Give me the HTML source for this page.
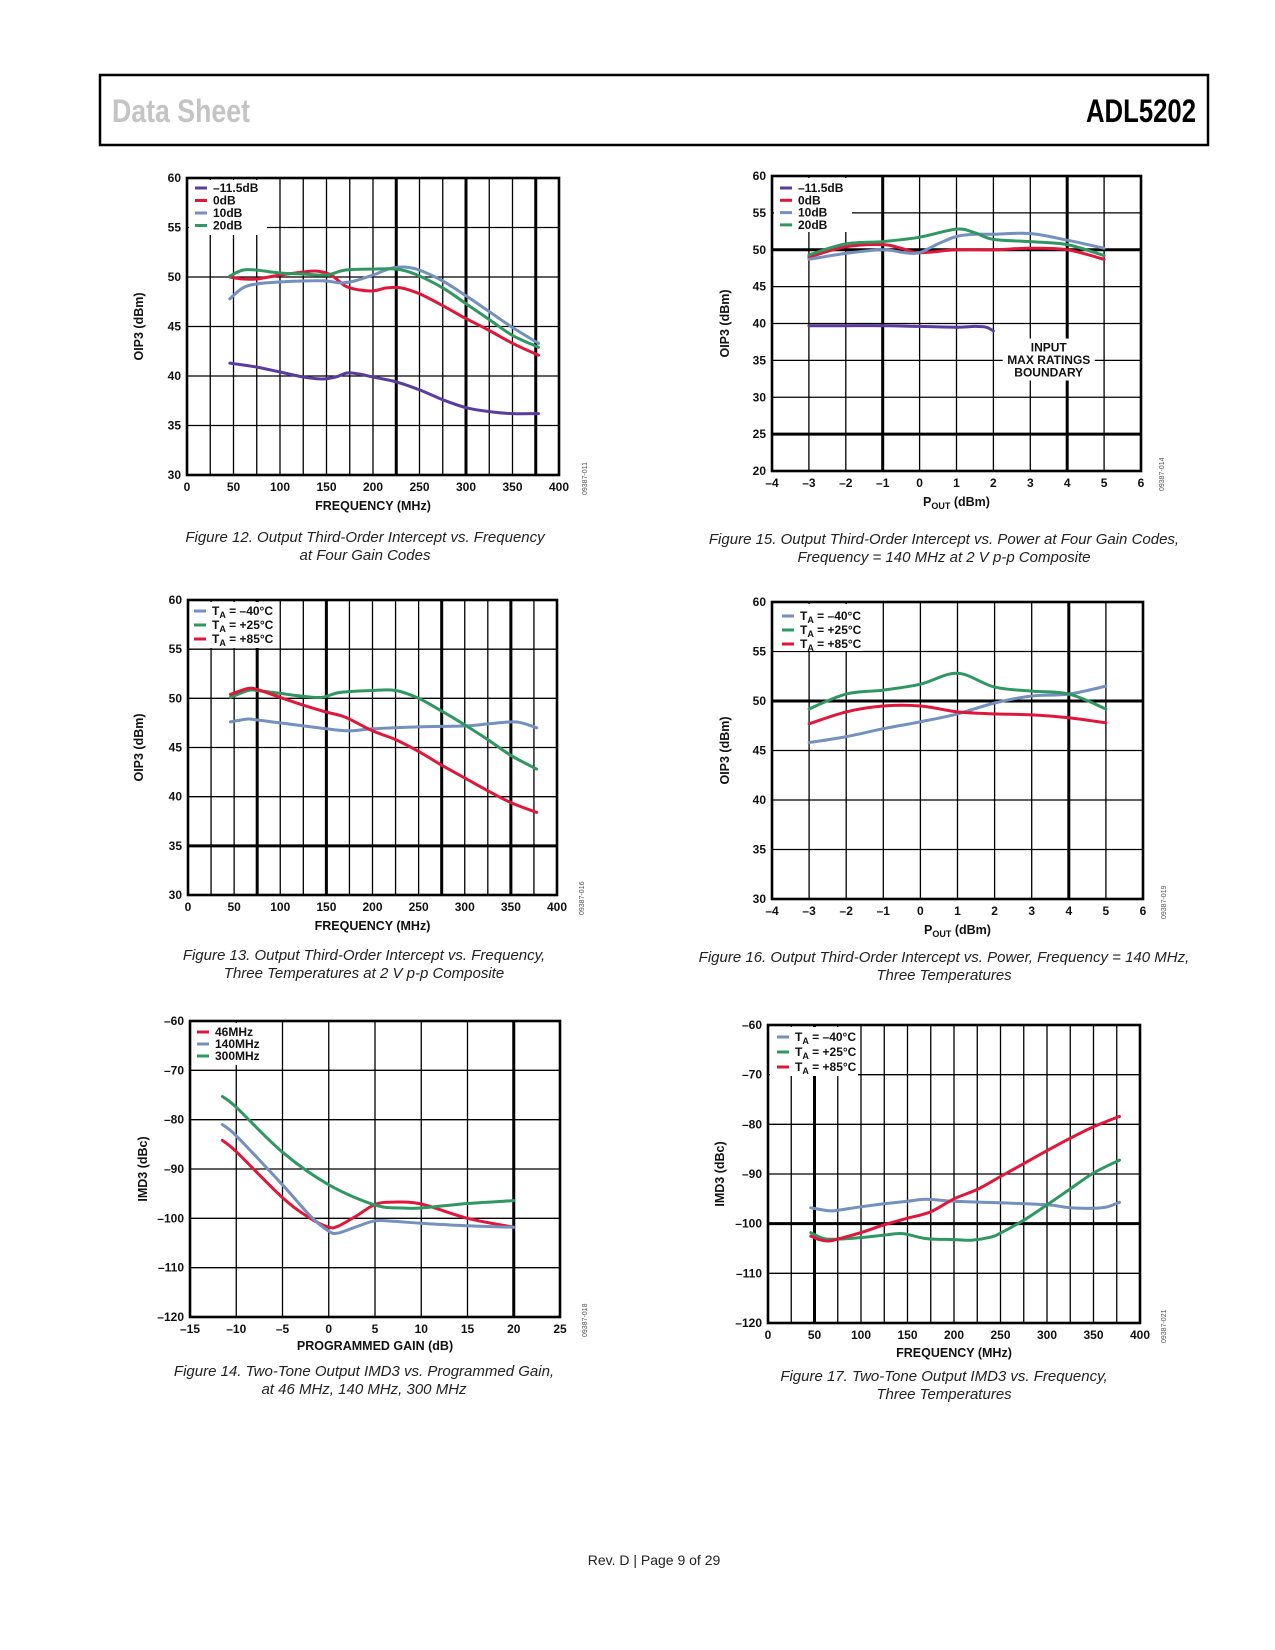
<!DOCTYPE html>
<html><head><meta charset="utf-8"><style>
html,body{margin:0;padding:0;background:#fff;}
svg{display:block;font-family:"Liberation Sans",Arial,sans-serif;}
.tk{font-size:12px;font-weight:bold;fill:#111;}
.at{font-size:12.5px;font-weight:bold;fill:#111;}
.lg{font-size:12px;font-weight:bold;fill:#111;}
.cap{font-size:15px;font-style:italic;fill:#222;}
</style></head><body>
<svg id="page" width="1275" height="1650" viewBox="0 0 1275 1650">
<rect x="0" y="0" width="1275" height="1650" fill="#fff"/>
<g>
<rect x="100" y="75" width="1108" height="70" fill="none" stroke="#000" stroke-width="2.5"/>
<text x="112" y="122" font-size="32" font-weight="bold" fill="#c4c4c4" textLength="138" lengthAdjust="spacingAndGlyphs">Data Sheet</text>
<text x="1086" y="122" font-size="32" font-weight="bold" fill="#000" textLength="110" lengthAdjust="spacingAndGlyphs">ADL5202</text>
</g>
<g id="charts"></g>
<text x="654" y="1565" text-anchor="middle" font-size="14" fill="#222">Rev. D | Page 9 of 29</text>
</svg>
<script>
// ---- Figure 12 data ----
const f12_x_m115 = [46,75,100,125,145,160,172,185,200,225,250,275,300,325,350,378];
const f12_y_m115 = [41.3,40.9,40.4,39.9,39.7,39.9,40.3,40.2,39.9,39.4,38.6,37.6,36.8,36.4,36.2,36.2];
const f12_x_0 = [46,60,75,100,125,140,155,170,185,200,215,230,250,275,300,325,350,378];
const f12_y_0 = [50.0,49.8,49.8,50.2,50.5,50.6,50.2,49.1,48.7,48.6,48.9,48.9,48.3,47.1,45.8,44.6,43.3,42.1];
const f12_x_10 = [46,60,75,100,125,150,165,180,200,220,235,250,275,300,325,350,378];
const f12_y_10 = [47.8,48.9,49.3,49.5,49.6,49.6,49.4,49.6,50.2,50.9,51.0,50.7,49.6,48.1,46.5,44.9,43.3];
const f12_x_20 = [46,60,75,100,125,150,170,200,225,245,275,300,325,350,378];
const f12_y_20 = [50.1,50.7,50.7,50.4,50.3,50.2,50.7,50.8,50.8,50.3,48.9,47.3,45.7,44.1,42.9];
const f12_xticks = [0,50,100,150,200,250,300,350,400];
const f12_yticks = [30,35,40,45,50,55,60];
// ---- Figure 15 data ----
const f15_x_m115 = [-3,-2,-1,0,1,1.5,1.8,2];
const f15_y_m115 = [39.7,39.7,39.7,39.6,39.5,39.6,39.5,39.0];
const f15_x_0 = [-3,-2,-1,-0.5,0,1,2,3,4,5];
const f15_y_0 = [49.0,50.4,50.7,50.2,49.6,50.0,50.0,50.2,50.0,48.7];
const f15_x_10 = [-3,-2,-1,-0.4,0,0.5,1,1.5,2,3,4,5];
const f15_y_10 = [48.7,49.5,50.0,49.6,49.6,50.8,51.8,52.1,52.1,52.2,51.3,50.2];
const f15_x_20 = [-3,-2,-1,0,1,1.5,2,3,4,5];
const f15_y_20 = [49.3,50.8,51.1,51.7,52.8,52.3,51.4,51.1,50.7,49.2];
const f15_xticks = [-4,-3,-2,-1,0,1,2,3,4,5,6];
const f15_yticks = [20,25,30,35,40,45,50,55,60];
// ---- Figure 13 data ----
const f13_x_m40 = [46,65,75,100,125,150,175,200,250,300,325,350,362,378];
const f13_y_m40 = [47.6,47.9,47.8,47.5,47.2,46.9,46.7,46.9,47.1,47.2,47.4,47.6,47.5,47.0];
const f13_x_25 = [46,65,75,100,125,145,165,200,225,250,275,300,325,350,378];
const f13_y_25 = [50.1,50.8,50.8,50.5,50.2,50.1,50.6,50.8,50.8,50.0,48.7,47.3,45.8,44.2,42.8];
const f13_x_85 = [46,65,75,100,125,150,170,200,225,250,275,300,325,350,378];
const f13_y_85 = [50.4,51.0,50.9,50.1,49.3,48.6,48.1,46.7,45.8,44.6,43.2,41.9,40.6,39.4,38.4];
const f13_xticks = [0,50,100,150,200,250,300,350,400];
const f13_yticks = [30,35,40,45,50,55,60];
// ---- Figure 16 data ----
const f16_x = [-3,-2,-1,0,1,2,3,4,5];
const f16_y_m40 = [45.8,46.4,47.2,47.9,48.7,49.8,50.5,50.7,51.5];
const f16_y_25 = [49.2,50.7,51.1,51.7,52.8,51.4,51.0,50.7,49.2];
const f16_y_85 = [47.7,48.9,49.5,49.5,48.9,48.7,48.6,48.3,47.8];
const f16_xticks = [-4,-3,-2,-1,0,1,2,3,4,5,6];
const f16_yticks = [30,35,40,45,50,55,60];
// ---- Figure 14 data ----
const f14_x_46 = [-11.5,-10,-5,-2,0,1,3,5,7,10,15,20];
const f14_y_46 = [-84.2,-86.5,-95.8,-100,-101.8,-101.6,-99.5,-97.2,-96.7,-97.1,-100.0,-101.8];
const f14_x_140 = [-11.5,-10,-5,-2,0,1,3,5,7,10,15,20];
const f14_y_140 = [-81,-83.3,-93.2,-99.5,-102.6,-103,-101.7,-100.5,-100.6,-101,-101.5,-101.8];
const f14_x_300 = [-11.5,-10,-5,0,5,8,10,15,20];
const f14_y_300 = [-75.3,-77.5,-86.6,-93.2,-97.3,-97.9,-97.9,-97.0,-96.4];
const f14_xticks = [-15,-10,-5,0,5,10,15,20,25];
const f14_yticks = [-120,-110,-100,-90,-80,-70,-60];
// ---- Figure 17 data ----
const f17_x_m40 = [46,65,75,100,125,150,170,200,250,300,325,350,365,378];
const f17_y_m40 = [-96.8,-97.4,-97.3,-96.6,-96,-95.5,-95.1,-95.5,-95.8,-96.2,-96.8,-96.9,-96.6,-95.7];
const f17_x_25 = [46,60,75,100,125,145,170,200,220,240,250,275,300,325,350,378];
const f17_y_25 = [-101.8,-103,-103.1,-102.8,-102.3,-102,-103,-103.2,-103.3,-102.7,-101.9,-99.3,-96.2,-93,-89.8,-87.2];
const f17_x_85 = [46,55,65,75,100,125,150,175,200,225,250,275,300,325,350,378];
const f17_y_85 = [-102.5,-103.2,-103.5,-103.1,-101.8,-100.2,-98.9,-97.6,-95.0,-93.1,-90.5,-87.9,-85.3,-82.8,-80.5,-78.4];
const f17_xticks = [0,50,100,150,200,250,300,350,400];
const f17_yticks = [-120,-110,-100,-90,-80,-70,-60];

const NS = 'http://www.w3.org/2000/svg';
const C = {purple:'#5a3c9e', red:'#e0173a', blue:'#7490be', green:'#2f9862'};
const root = document.getElementById('charts');
function mk(tag, attrs, parent){const e=document.createElementNS(NS,tag);for(const k in attrs)e.setAttribute(k,attrs[k]);(parent||root).appendChild(e);return e;}
function smooth(pts){
  let d='M'+pts[0][0].toFixed(1)+','+pts[0][1].toFixed(1);
  for(let i=0;i<pts.length-1;i++){
    const p0=pts[i-1]||pts[i],p1=pts[i],p2=pts[i+1],p3=pts[i+2]||p2;
    const c1=[p1[0]+(p2[0]-p0[0])/6,p1[1]+(p2[1]-p0[1])/6];
    const c2=[p2[0]-(p3[0]-p1[0])/6,p2[1]-(p3[1]-p1[1])/6];
    d+=' C'+c1[0].toFixed(1)+','+c1[1].toFixed(1)+' '+c2[0].toFixed(1)+','+c2[1].toFixed(1)+' '+p2[0].toFixed(1)+','+p2[1].toFixed(1);
  }
  return d;
}
function chart(cfg){
  const g=mk('g',{});
  
  
  const L=cfg.L,R=cfg.R,T=cfg.T,B=cfg.B;
  const xmin=cfg.xticks[0],xmax=cfg.xticks[cfg.xticks.length-1];
  const ymin=cfg.yticks[0],ymax=cfg.yticks[cfg.yticks.length-1];
  const sx=v=>L+(v-xmin)/(xmax-xmin)*(R-L);
  const sy=v=>B-(v-ymin)/(ymax-ymin)*(B-T);
  for(let v=xmin+cfg.xstep; v<xmax-1e-9; v+=cfg.xstep){
    const thick=cfg.xthick.some(t=>Math.abs(t-v)<1e-6);
    const ln=mk('line',{x1:sx(v),x2:sx(v),y1:T,y2:B,stroke:'#000','stroke-width':thick?3:1.3},g);
    
    
  }
  for(const v of cfg.yticks){
    if(v===ymin||v===ymax)continue;
    const thick=cfg.ythick.includes(v);
    const ln=mk('line',{x1:L,x2:R,y1:sy(v),y2:sy(v),stroke:'#000','stroke-width':thick?3:1.3},g);
    
    
  }
  const fr=mk('rect',{x:L,y:T,width:R-L,height:B-T,fill:'none',stroke:'#000','stroke-width':2.6},g);
  
  
  mk('rect',{x:L+2,y:T+2,width:cfg.lgW,height:cfg.lgH,fill:'#fff'},g);
  if(cfg.note){
    mk('rect',{x:sx(cfg.note.x)-46,y:sy(cfg.note.y)-13,width:92,height:42,fill:'#fff'},g);
    cfg.note.lines.forEach((s,i)=>{
      const t=mk('text',{x:sx(cfg.note.x),y:sy(cfg.note.y)+i*12.5,'text-anchor':'middle',class:'lg'},g);
      t.textContent=s;
      
      
    });
  }
  for(const v of cfg.xticks){
    const t=mk('text',{x:sx(v),y:B+16,'text-anchor':'middle',class:'tk'},g);
    t.textContent=v<0?'\u2013'+(-v):String(v);
    
    
  }
  for(const v of cfg.yticks){
    const t=mk('text',{x:L-6,y:sy(v)+4,'text-anchor':'end',class:'tk'},g);
    t.textContent=v<0?'\u2013'+(-v):String(v);
    
    
  }
  const xt=mk('text',{x:(L+R)/2,y:cfg.xtY,'text-anchor':'middle',class:'at'},g);
  if(cfg.pout){const a=mk('tspan',{},xt);a.textContent='P';const b=mk('tspan',{dy:3,'font-size':'9'},xt);b.textContent='OUT';const c=mk('tspan',{dy:-3},xt);c.textContent=' (dBm)';}
  else xt.textContent=cfg.xtitle;
  
  
  const yt=mk('text',{x:cfg.ytX,y:(T+B)/2,'text-anchor':'middle',class:'at',transform:'rotate(-90 '+cfg.ytX+' '+(T+B)/2+')'},g);
  yt.textContent=cfg.ytitle;
  
  
  cfg.series.forEach((s,i)=>{
    const pts=s.x.map((xv,j)=>[sx(xv),sy(s.y[j])]);
    const p=mk('path',{d:smooth(pts),fill:'none',stroke:s.c,'stroke-width':3,'stroke-linecap':'round','stroke-linejoin':'round'},g);
    
    
    const ly=T+cfg.lgY0+i*cfg.lgDy;
    const ls=mk('line',{x1:L+cfg.lgX,x2:L+cfg.lgX+12,y1:ly,y2:ly,stroke:s.c,'stroke-width':3},g);
    
    
    const lt=mk('text',{x:L+cfg.lgX+18,y:ly+4,class:'lg'},g);
    if(s.temp){const a=mk('tspan',{},lt);a.textContent='T';const b=mk('tspan',{dy:3,'font-size':'9'},lt);b.textContent='A';const c=mk('tspan',{dy:-3},lt);c.textContent=' = '+s.label;}
    else lt.textContent=s.label;
    
    
  });
  const code=mk('text',{x:cfg.codeX,y:B+20,'font-size':'7',fill:'#555',transform:'rotate(-90 '+cfg.codeX+' '+(B+20)+')'},g);
  code.textContent=cfg.code;
  
  
  cfg.caption.forEach((s,i)=>{
    const t=mk('text',{x:cfg.capX,y:cfg.capY+i*18,'text-anchor':'middle',class:'cap'},g);
    t.textContent=s;
    
    
  });
}
chart({name:'figure-12-chart',L:187,R:559,T:178,B:475,xticks:f12_xticks,yticks:f12_yticks,xstep:25,xthick:[225,300,375],ythick:[],
  xtitle:'FREQUENCY (MHz)',xtY:510,ytitle:'OIP3 (dBm)',ytX:143,lgW:78,lgH:55,lgX:8,lgY0:10,lgDy:12.5,codeX:587,code:'09387-011',
  caption:['Figure 12. Output Third-Order Intercept vs. Frequency','at Four Gain Codes'],capX:365,capY:542,
  series:[{x:f12_x_m115,y:f12_y_m115,c:C.purple,label:'\u201311.5dB'},{x:f12_x_0,y:f12_y_0,c:C.red,label:'0dB'},{x:f12_x_10,y:f12_y_10,c:C.blue,label:'10dB'},{x:f12_x_20,y:f12_y_20,c:C.green,label:'20dB'}]});
chart({name:'figure-15-chart',L:772,R:1141,T:176,B:471,xticks:f15_xticks,yticks:f15_yticks,xstep:1,xthick:[-1,4],ythick:[25,50],
  pout:true,xtY:506,ytitle:'OIP3 (dBm)',ytX:729,lgW:78,lgH:54,lgX:8,lgY0:12,lgDy:12.3,codeX:1164,code:'09387-014',
  note:{x:3.5,y:36.2,lines:['INPUT','MAX RATINGS','BOUNDARY']},
  caption:['Figure 15. Output Third-Order Intercept vs. Power at Four Gain Codes,','Frequency = 140 MHz at 2 V p-p Composite'],capX:944,capY:544,
  series:[{x:f15_x_m115,y:f15_y_m115,c:C.purple,label:'\u201311.5dB'},{x:f15_x_0,y:f15_y_0,c:C.red,label:'0dB'},{x:f15_x_10,y:f15_y_10,c:C.blue,label:'10dB'},{x:f15_x_20,y:f15_y_20,c:C.green,label:'20dB'}]});
chart({name:'figure-13-chart',L:188,R:557,T:600,B:895,xticks:f13_xticks,yticks:f13_yticks,xstep:25,xthick:[75,150,275,350],ythick:[35],
  xtitle:'FREQUENCY (MHz)',xtY:930,ytitle:'OIP3 (dBm)',ytX:143,lgW:85,lgH:46,lgX:6,lgY0:11,lgDy:14,codeX:584,code:'09387-016',
  caption:['Figure 13. Output Third-Order Intercept vs. Frequency,','Three Temperatures at 2 V p-p Composite'],capX:364,capY:960,
  series:[{x:f13_x_m40,y:f13_y_m40,c:C.blue,label:'\u201340\u00b0C',temp:1},{x:f13_x_25,y:f13_y_25,c:C.green,label:'+25\u00b0C',temp:1},{x:f13_x_85,y:f13_y_85,c:C.red,label:'+85\u00b0C',temp:1}]});
chart({name:'figure-16-chart',L:772,R:1143,T:602,B:899,xticks:f16_xticks,yticks:f16_yticks,xstep:1,xthick:[4],ythick:[50],
  pout:true,xtY:934,ytitle:'OIP3 (dBm)',ytX:729,lgW:88,lgH:47,lgX:10,lgY0:14,lgDy:14,codeX:1166,code:'09387-019',
  caption:['Figure 16. Output Third-Order Intercept vs. Power, Frequency = 140 MHz,','Three Temperatures'],capX:944,capY:962,
  series:[{x:f16_x,y:f16_y_m40,c:C.blue,label:'\u201340\u00b0C',temp:1},{x:f16_x,y:f16_y_25,c:C.green,label:'+25\u00b0C',temp:1},{x:f16_x,y:f16_y_85,c:C.red,label:'+85\u00b0C',temp:1}]});
chart({name:'figure-14-chart',L:190,R:560,T:1021,B:1317,xticks:f14_xticks,yticks:f14_yticks,xstep:5,xthick:[20],ythick:[],
  xtitle:'PROGRAMMED GAIN (dB)',xtY:1350,ytitle:'IMD3 (dBc)',ytX:147,lgW:66,lgH:42,lgX:7,lgY0:11,lgDy:12,codeX:587,code:'09387-018',
  caption:['Figure 14. Two-Tone Output IMD3 vs. Programmed Gain,','at 46 MHz, 140 MHz, 300 MHz'],capX:364,capY:1376,
  series:[{x:f14_x_46,y:f14_y_46,c:C.red,label:'46MHz'},{x:f14_x_140,y:f14_y_140,c:C.blue,label:'140MHz'},{x:f14_x_300,y:f14_y_300,c:C.green,label:'300MHz'}]});
chart({name:'figure-17-chart',L:768,R:1140,T:1025,B:1323,xticks:f17_xticks,yticks:f17_yticks,xstep:25,xthick:[50],ythick:[-100],
  xtitle:'FREQUENCY (MHz)',xtY:1357,ytitle:'IMD3 (dBc)',ytX:724,lgW:88,lgH:49,lgX:9,lgY0:12,lgDy:15,codeX:1166,code:'09387-021',
  caption:['Figure 17. Two-Tone Output IMD3 vs. Frequency,','Three Temperatures'],capX:944,capY:1381,
  series:[{x:f17_x_m40,y:f17_y_m40,c:C.blue,label:'\u201340\u00b0C',temp:1},{x:f17_x_25,y:f17_y_25,c:C.green,label:'+25\u00b0C',temp:1},{x:f17_x_85,y:f17_y_85,c:C.red,label:'+85\u00b0C',temp:1}]});
</script>
</body></html>
